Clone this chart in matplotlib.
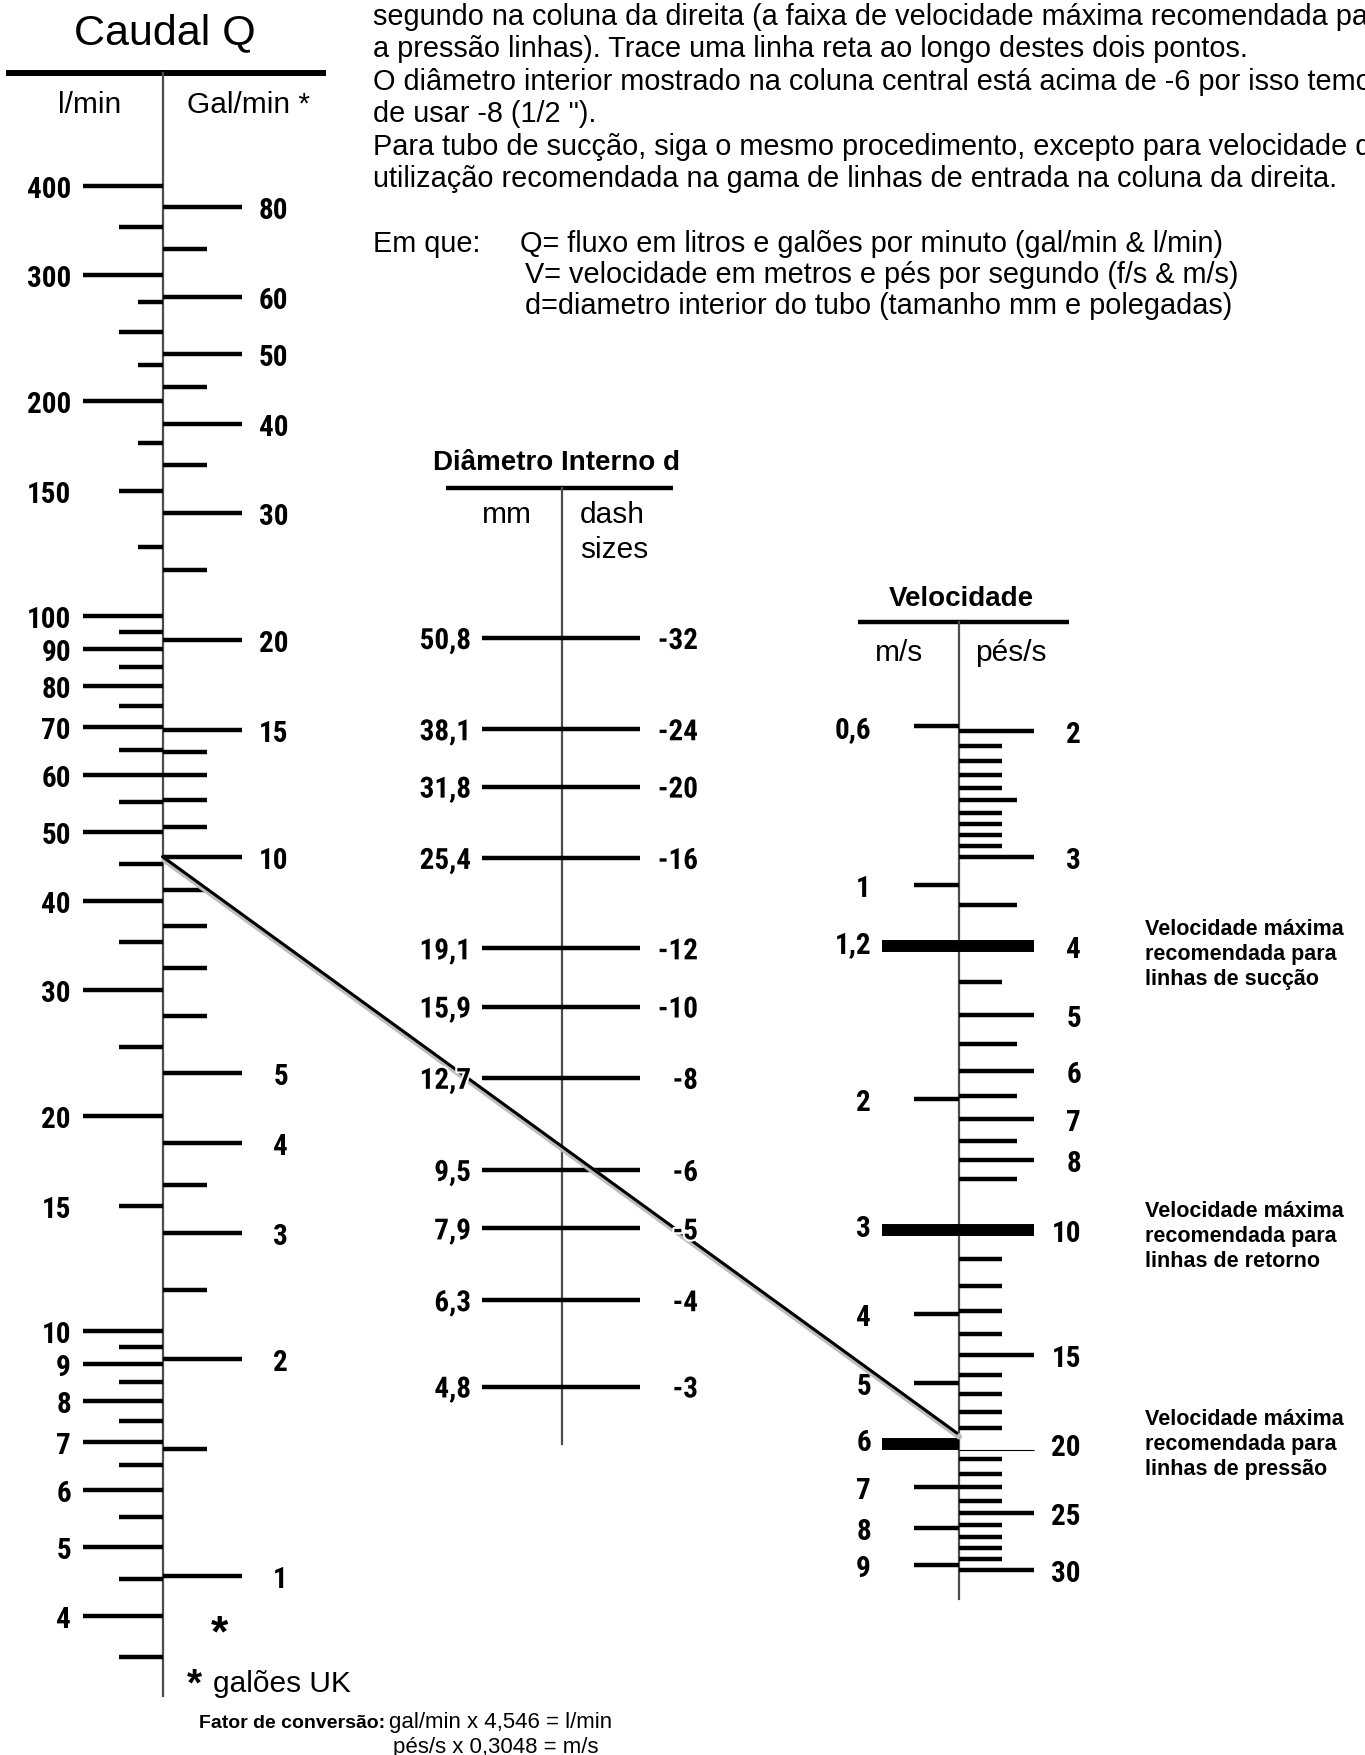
import numpy as np
import matplotlib
matplotlib.use("Agg")
import matplotlib.pyplot as plt
import matplotlib.patheffects as pe
import matplotlib.transforms as mtransforms
from matplotlib.patches import ConnectionPatch

W, H, DPI = 1365, 1756, 100

# ---------------- dados ----------------
# Caudal Q - l/min (lado esquerdo da coluna da esquerda)
lmin_long = [400, 300, 200, 100, 90, 80, 70, 60, 50, 40, 30, 20, 10, 9, 8, 7, 6, 5, 4]
lmin_short = [350, 250, 150, 95, 85, 75, 65, 55, 45, 35, 25, 15,
              9.5, 8.5, 7.5, 6.5, 5.5, 4.5, 3.5]
lmin_tiny = [275, 225, 175, 125]
lmin_labels = [400, 300, 200, 150, 100, 90, 80, 70, 60, 50, 40, 30, 20, 15,
               10, 9, 8, 7, 6, 5, 4]

# Caudal Q - gal/min UK (lado direito)
gal_long = [80, 60, 50, 40, 30, 20, 15, 10, 5, 4, 3, 2, 1]
gal_short = [70, 45, 35, 25, 14, 13, 12, 11, 9, 8, 7, 6, 3.5, 2.5, 1.5]

# Diametro interno
mm_values = [50.8, 38.1, 31.8, 25.4, 19.1, 15.9, 12.7, 9.5, 7.9, 6.3, 4.8]
dash_sizes = ["-32", "-24", "-20", "-16", "-12", "-10", "-8", "-6", "-5", "-4", "-3"]

# Velocidade
ms_ticks = [0.6, 1, 2, 4, 5, 7, 8, 9]
ms_labels = [0.6, 1, 1.2, 2, 3, 4, 5, 6, 7, 8, 9]
fps_long = [2, 3, 5, 6, 7, 8, 15, 25, 30]
fps_mid = [2.5, 3.5, 5.5, 6.5, 7.5, 8.5]
fps_short = [2.1, 2.2, 2.3, 2.4, 2.6, 2.7, 2.8, 2.9, 4.5, 11, 12, 13, 14,
             16, 17, 18, 19, 21, 22, 23, 24, 26, 27, 28, 29]
fps_labels = [2, 3, 4, 5, 6, 7, 8, 10, 15, 20, 25, 30]
fps_limits = [4, 10, 20]
limit_texts = [["Velocidade máxima", "recomendada para", "linhas de sucção"],
               ["Velocidade máxima", "recomendada para", "linhas de retorno"],
               ["Velocidade máxima", "recomendada para", "linhas de pressão"]]

# exemplo tracado no abaco
example_q_gal = 10
example_v_fps = 19.3

# o texto do original esta cortado na margem direita
top_lines = [
    "segundo na coluna da direita (a faixa de velocidade máxima recomendada pa",
    "a pressão linhas). Trace uma linha reta ao longo destes dois pontos.",
    "O diâmetro interior mostrado na coluna central está acima de -6 por isso temo",
    "de usar -8 (1/2 \").",
    "Para tubo de sucção, siga o mesmo procedimento, excepto para velocidade d",
    "utilização recomendada na gama de linhas de entrada na coluna da direita.",
]
legend_lines = ["Q= fluxo em litros e galões por minuto (gal/min & l/min)",
                "V= velocidade em metros e pés por segundo (f/s & m/s)",
                "d=diametro interior do tubo (tamanho mm e polegadas)"]

TXT = ["Liberation Sans", "DejaVu Sans"]
NUM = dict(family=["Roboto Condensed", "DejaVu Sans"], weight="bold", size=21)
TICK_LW = 3.2
AXIS_C = "#4d4d4d"

fig = plt.figure(figsize=(W / DPI, H / DPI), dpi=DPI)
fig.patch.set_facecolor("white")

ax0 = fig.add_axes([0, 0, 1, 1], zorder=0)
ax0.set_xlim(0, W)
ax0.set_ylim(H, 0)
ax0.set_axis_off()


def scale_axes(v_a, y_a, v_b, y_b, z=1):
    # eixo log que ocupa a figura inteira, calibrado por dois pontos da escala
    ax = fig.add_axes([0, 0, 1, 1], zorder=z)
    ax.set_yscale("log")
    k = (np.log10(v_a) - np.log10(v_b)) / (y_b - y_a)
    top = np.log10(v_a) + y_a * k
    bot = np.log10(v_a) - (H - y_a) * k
    ax.set_ylim(10 ** bot, 10 ** top)
    ax.set_xlim(0, W)
    ax.set_axis_off()
    return ax


def fmt(v):
    return f"{v:g}".replace(".", ",")


def put_labels(ax, x, values, texts, ha, halo=False):
    for v, t in zip(values, texts):
        txt = ax.text(x, v, t, ha=ha, va="center_baseline", zorder=6, **NUM)
        if halo:
            txt.set_path_effects([pe.withStroke(linewidth=3, foreground="white")])


# ---------------- Caudal Q ----------------
XQ = 162.5
ax_l = scale_axes(400, 187, 4, 1617, z=1)
ax_g = scale_axes(80, 208, 1, 1577, z=1)

ax0.text(165, 44, "Caudal Q", ha="center", va="baseline", fontsize=31, family=TXT)
ax0.plot([5.6, 326], [74, 74], color="black", lw=4.3, solid_capstyle="butt")
ax0.plot([XQ, XQ], [74, 1697], color=AXIS_C, lw=1.6)
ax0.text(89.6, 113, "l/min", ha="center", va="baseline", fontsize=21.5, family=TXT)
ax0.text(248.6, 113, "Gal/min *", ha="center", va="baseline", fontsize=21.5, family=TXT)

ax_l.hlines(lmin_long, 83, XQ, color="black", lw=TICK_LW)
ax_l.hlines(lmin_short, 119, XQ, color="black", lw=TICK_LW)
ax_l.hlines(lmin_tiny, 138, XQ, color="black", lw=TICK_LW)
put_labels(ax_l, 71, lmin_labels, [fmt(v) for v in lmin_labels], "right")

ax_g.hlines(gal_long, XQ, 242, color="black", lw=TICK_LW)
ax_g.hlines(gal_short, XQ, 207, color="black", lw=TICK_LW)
put_labels(ax_g, 288, gal_long, [fmt(v) for v in gal_long], "right")

ax0.text(219, 1646, "*", ha="center", va="baseline", fontsize=32,
         weight="bold", family=TXT)
ax0.text(194, 1695, "*", ha="center", va="baseline", fontsize=28,
         weight="bold", family=TXT)
ax0.text(213, 1692, "galões UK", ha="left", va="baseline", fontsize=21.5, family=TXT)
ax0.text(385, 1728, "Fator de conversão:", ha="right", va="baseline",
         fontsize=14, weight="bold", family=TXT)
ax0.text(389, 1728, "gal/min x 4,546 = l/min", ha="left", va="baseline",
         fontsize=16, family=TXT)
ax0.text(393, 1753, "pés/s x 0,3048 = m/s", ha="left", va="baseline",
         fontsize=16, family=TXT)

# ---------------- Diametro interno ----------------
XD = 562.3
ax_d = scale_axes(50.8, 639, 4.8, 1387.5, z=3)
ax0.text(556.7, 470, "Diâmetro Interno d", ha="center", va="baseline",
         fontsize=20, weight="bold", family=TXT)
ax0.plot([445.7, 673.3], [489.3, 489.3], color="black", lw=3.2, solid_capstyle="butt")
ax0.plot([XD, XD], [489.3, 1445], color=AXIS_C, lw=1.6)
ax0.text(506.7, 523, "mm", ha="center", va="baseline", fontsize=21.5, family=TXT)
ax0.text(580, 523, "dash", ha="left", va="baseline", fontsize=21.5, family=TXT)
ax0.text(580, 558, "sizes", ha="left", va="baseline", fontsize=21.5, family=TXT)

ax_d.hlines(mm_values, 481.7, 640, color="black", lw=TICK_LW, zorder=2)
put_labels(ax_d, 471, mm_values, [fmt(v) for v in mm_values], "right", halo=True)
put_labels(ax_d, 698, mm_values, dash_sizes, "right", halo=True)

# ---------------- Velocidade ----------------
XV = 958.5
ax_v = scale_axes(2, 732.3, 30, 1570.7, z=2)
ax_ms = fig.add_axes([0, 0, 1, 1], zorder=2)
ax_ms.set_yscale("log")
lo, hi = ax_v.get_ylim()
ax_ms.set_ylim(lo * 0.3048, hi * 0.3048)   # m/s = pes/s x 0,3048
ax_ms.set_xlim(0, W)
ax_ms.set_axis_off()

ax0.text(961, 606, "Velocidade", ha="center", va="baseline", fontsize=20,
         weight="bold", family=TXT)
ax0.plot([858, 1069], [622.6, 622.6], color="black", lw=3.2, solid_capstyle="butt")
ax0.plot([XV, XV], [622.6, 1600], color=AXIS_C, lw=1.6)
ax0.text(899, 661, "m/s", ha="center", va="baseline", fontsize=21.5, family=TXT)
ax0.text(1011, 661, "pés/s", ha="center", va="baseline", fontsize=21.5, family=TXT)

ax_ms.hlines(ms_ticks, 914, XV, color="black", lw=TICK_LW)
put_labels(ax_ms, 871, ms_labels, [fmt(v) for v in ms_labels], "right")

ax_v.hlines(fps_long, XV, 1034.3, color="black", lw=TICK_LW)
ax_v.hlines(fps_mid, XV, 1016.7, color="black", lw=TICK_LW)
ax_v.hlines(fps_short, XV, 1002, color="black", lw=TICK_LW)
ax_v.hlines(fps_limits[:2], 881.7, 1034.3, color="black", lw=8.6)
# a barra de pressao fica so a esquerda (a direita aparece vazada)
ax_v.hlines(fps_limits[2], 881.7, XV, color="black", lw=8.6)
tr_low = mtransforms.offset_copy(ax_v.transData, fig=fig, x=0, y=-6, units="dots")
ax_v.hlines(fps_limits[2], XV, 1034.3, color="black", lw=0.8, transform=tr_low)
put_labels(ax_v, 1081, fps_labels, [fmt(v) for v in fps_labels], "right")

ty = [935, 1216.7, 1425]
for y, lines in zip(ty, limit_texts):
    for j, t in enumerate(lines):
        ax0.text(1145, y + 25 * j, t, ha="left", va="baseline", fontsize=15.5,
                 weight="bold", family=TXT)

# ---------------- texto de topo ----------------
FS_TOP = 20.8
for i, line in enumerate(top_lines):
    ax0.text(373, 25 + 32.4 * i, line, ha="left", va="baseline", fontsize=FS_TOP,
             family=TXT)
ax0.text(373, 252, "Em que:", ha="left", va="baseline", fontsize=FS_TOP, family=TXT)
for i, (x, line) in enumerate(zip([520, 525, 525], legend_lines)):
    ax0.text(x, 252 + 31 * i, line, ha="left", va="baseline", fontsize=FS_TOP,
             family=TXT)

# ---------------- linha de exemplo ----------------
con = ConnectionPatch(xyA=(XQ, example_q_gal), coordsA=ax_g.transData,
                      xyB=(XV - 1.5, example_v_fps), coordsB=ax_v.transData,
                      color="black", lw=2.2, zorder=4)
con.set_path_effects([pe.SimpleLineShadow(offset=(1.5, -2.5), shadow_color="#bdbdbd",
                                          alpha=1.0, linewidth=4.2),
                      pe.Normal()])
ax_d.add_artist(con)

fig.savefig("out.png", dpi=DPI)
